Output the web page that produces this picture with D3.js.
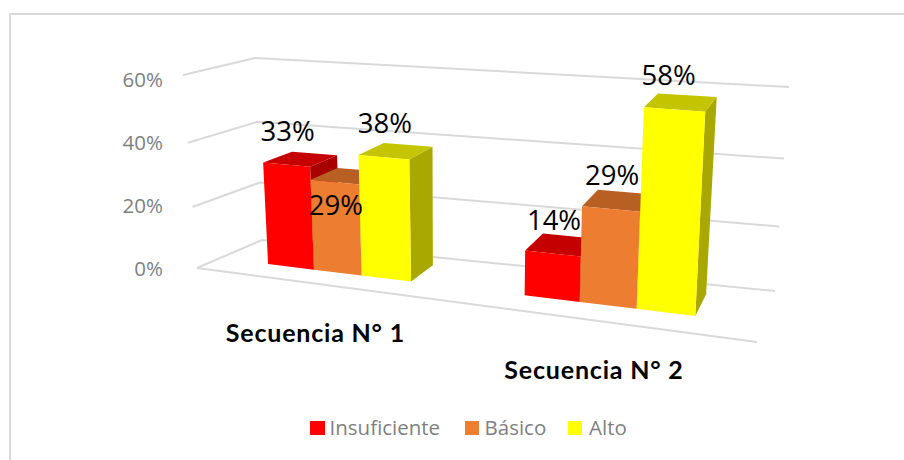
<!DOCTYPE html>
<html><head><meta charset="utf-8">
<script src="https://d3js.org/d3.v7.min.js"></script>
<style>html,body{margin:0;padding:0;background:#fff}svg{display:block}</style></head>
<body><div id="c"></div>
<script>
const categories = ["Secuencia N° 1", "Secuencia N° 2"];
const seriesNames = ["Insuficiente", "Básico", "Alto"];
const insuficiente = [33, 14];
const basico = [29, 29];
const alto = [38, 58];
const tickValues = [0, 20, 40, 60];
const seriesValues = [insuficiente, basico, alto];
const faceColors = [
  {front:"#ff0000", top:"#c40000", side:"#a80000"},
  {front:"#ed7d31", top:"#b85f24", side:"#a85620"},
  {front:"#ffff00", top:"#c4c400", side:"#a8a800"}
];

const W = 904, H = 460;
const svg = d3.select("#c").append("svg").attr("width", W).attr("height", H);

// Chart box corners: f = front, b = back, l/r = side, 0 = floor, 1 = ceiling
const box = {
  fl0:[197,268], fr0:[757,342], bl0:[262,240], br0:[775,291],
  fl1:[183,75],  fr1:[770,121], bl1:[255,58],  br1:[789,87]
};
const mix = (a,b,t) => a + (b-a)*t;
function project(u, d, z){
  return [0,1].map(i => {
    const f0 = mix(box.fl0[i], box.fr0[i], u), b0 = mix(box.bl0[i], box.br0[i], u);
    const f1 = mix(box.fl1[i], box.fr1[i], u), b1 = mix(box.bl1[i], box.br1[i], u);
    return mix(mix(f0,b0,d), mix(f1,b1,d), z);
  });
}
// Foreshortening of the width and height axes
const value = d3.scaleLinear().domain([0,60]).range([0,1]);
const zOf = v => { const t = value(v); return 0.922*t + 0.078*t*t; };
const uOf = t => 0.001 + 0.819*t + 0.176*t*t;

const cat = d3.scaleBand().domain(categories).range([0,1]).paddingInner(0.42).paddingOuter(0.21);
const ser = d3.scaleBand().domain(seriesNames).range([0,cat.bandwidth()]);
const dFront = 0.35, dBack = 0.8;

const poly = pts => "M" + pts.map(p => p.join(",")).join("L") + "Z";
const grid = svg.append("g").attr("fill","none").attr("stroke","#d9d9d9").attr("stroke-width",2);

// Gridlines: side wall + back wall, floor front edge
tickValues.forEach(v => {
  const z = zOf(v);
  grid.append("path").attr("d", d3.line()([project(0,0,z), project(0,1,z), project(1,1,z)]));
});
grid.append("path").attr("d", d3.line()([project(0,0,0), project(1,0,0)]));

// Tick labels
const tickY = d3.scaleLinear().domain([0,60]).range([269,80]);
svg.append("g").selectAll("text").data(tickValues).join("text")
  .attr("x", 163)
  .attr("y", v => tickY(v) + 7)
  .attr("text-anchor","end")
  .attr("font-family","'Open Sans'").attr("font-size",20.5).attr("fill","#7f7f7f")
  .text(v => v + "%");

// Bars
const bars = svg.append("g");
const labels = svg.append("g");
categories.forEach((c, ci) => {
  seriesNames.forEach((s, si) => {
    const v = seriesValues[si][ci];
    const t0 = cat(c) + ser(s), t1 = t0 + ser.bandwidth();
    const u0 = uOf(t0), u1 = uOf(t1), z = zOf(v);
    const col = faceColors[si];
    const P = project;
    bars.append("path").attr("fill",col.side)
      .attr("d", poly([P(u1,dFront,0),P(u1,dBack,0),P(u1,dBack,z),P(u1,dFront,z)]));
    bars.append("path").attr("fill",col.top)
      .attr("d", poly([P(u0,dFront,z),P(u1,dFront,z),P(u1,dBack,z),P(u0,dBack,z)]));
    bars.append("path").attr("fill",col.front)
      .attr("d", poly([P(u0,dFront,0),P(u1,dFront,0),P(u1,dFront,z),P(u0,dFront,z)]));
    const top = P((u0+u1)/2, dFront, z);
    const inside = (ci === 0 && si === 1);
    labels.append("text")
      .attr("x", top[0] + (si === 2 && ci === 1 ? -6 : 1))
      .attr("y", top[1] + (inside ? 24 : -33) + 9)
      .attr("text-anchor","middle")
      .attr("font-family","'Open Sans'").attr("font-size",27.5).attr("fill","#000")
      .text(v + "%");
  });
});

// Category labels
svg.append("g").selectAll("text").data(categories).join("text")
  .attr("x", c => project(uOf(cat(c)+cat.bandwidth()/2),0,0)[0] - 3)
  .attr("y", c => project(uOf(cat(c)+cat.bandwidth()/2),0,0)[1] + 58)
  .attr("text-anchor","middle")
  .attr("font-family","Lato").attr("font-weight",700).attr("font-size",25)
  .attr("letter-spacing",0.8).attr("fill","#000")
  .text(c => c);

// Legend
const legendX = [310, 465, 568];
const lg = svg.append("g").selectAll("g").data(seriesNames).join("g")
  .attr("transform",(d,i)=>`translate(${legendX[i]},421)`);
lg.append("rect").attr("width",(d,i)=>i===0?15:14).attr("height",14).attr("fill",(d,i)=>faceColors[i].front);
lg.append("text").attr("x",(d,i)=>i===2?21:19.5).attr("y",14)
  .attr("font-family","'Open Sans'").attr("font-size",20.5).attr("fill","#7f7f7f").text(d=>d);

// Frame
svg.append("path").attr("fill","none").attr("stroke","#d9d9d9").attr("stroke-width",2)
  .attr("d","M10,460V14H904");
</script></body></html>
